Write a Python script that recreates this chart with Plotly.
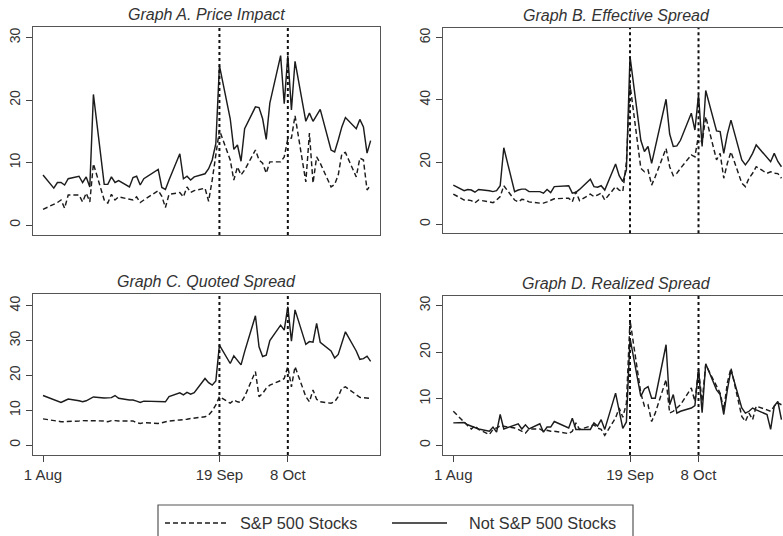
import datetime as dt
import plotly.graph_objects as go

# ---------------- data ----------------
dates = [
    "2008-08-01", "2008-08-04", "2008-08-05", "2008-08-06", "2008-08-07", "2008-08-08",
    "2008-08-11", "2008-08-12", "2008-08-13", "2008-08-14", "2008-08-15",
    "2008-08-18", "2008-08-19", "2008-08-20", "2008-08-21", "2008-08-22",
    "2008-08-25", "2008-08-26", "2008-08-27", "2008-08-28", "2008-08-29",
    "2008-09-02", "2008-09-03", "2008-09-04", "2008-09-05",
    "2008-09-08", "2008-09-09", "2008-09-10", "2008-09-11", "2008-09-12",
    "2008-09-15", "2008-09-16", "2008-09-17", "2008-09-18", "2008-09-19",
    "2008-09-22", "2008-09-23", "2008-09-24", "2008-09-25", "2008-09-26",
    "2008-09-29", "2008-09-30",
    "2008-10-01", "2008-10-02", "2008-10-03",
    "2008-10-06", "2008-10-07", "2008-10-08", "2008-10-09", "2008-10-10",
    "2008-10-13", "2008-10-14", "2008-10-15", "2008-10-16", "2008-10-17",
    "2008-10-20", "2008-10-21", "2008-10-22", "2008-10-23", "2008-10-24",
    "2008-10-27", "2008-10-28", "2008-10-29", "2008-10-30", "2008-10-31",
]

price_impact_not_sp = [
    8.0, 5.9, 6.8, 6.8, 6.4, 7.4, 7.8, 6.8, 7.7, 6.1, 20.9, 6.5, 6.5, 7.7, 6.8, 7.1, 6.1, 7.6, 7.8, 6.4, 7.4,
    8.9, 6.0, 5.7, 7.2, 11.4, 7.4, 7.8, 7.2, 7.7, 8.2, 9.0, 10.4, 13.0, 25.5, 17.0, 12.1, 12.8, 10.2, 15.4, 18.9, 18.8,
    17.0, 13.7, 19.5, 27.1, 19.4, 27.1, 18.4, 26.2, 16.6, 17.9, 16.6, 17.6, 18.5, 12.0, 11.7, 13.6, 15.7, 17.2,
    15.4, 16.9, 15.7, 11.5, 13.5,
]
price_impact_sp = [
    2.5, 3.3, 3.6, 4.0, 2.7, 4.8, 4.8, 3.7, 5.1, 3.7, 9.8, 4.0, 3.5, 4.9, 4.0, 4.5, 4.1, 4.0, 4.5, 3.6, 4.0,
    5.5, 4.6, 2.8, 4.9, 5.2, 4.5, 6.1, 5.2, 5.5, 5.9, 3.8, 7.2, 11.5, 15.2, 10.4, 7.2, 9.3, 8.0, 8.8, 12.0, 10.4,
    9.9, 8.3, 10.1, 10.1, 10.9, 13.8, 13.9, 17.5, 6.9, 14.7, 6.7, 10.9, 9.9, 6.1, 6.5, 8.0, 11.4, 11.6,
    7.7, 10.7, 10.4, 5.6, 6.4,
]
eff_spread_not_sp = [
    12.6, 10.8, 11.2, 11.0, 10.3, 11.2, 10.8, 10.5, 10.8, 12.4, 24.6, 10.5, 11.0, 11.3, 11.3, 10.5, 10.5, 10.0, 11.2, 10.2, 12.1,
    12.4, 10.0, 10.3, 11.2, 14.5, 12.1, 11.9, 12.4, 11.0, 19.4, 15.6, 13.7, 17.5, 54.0, 27.0, 23.4, 25.0, 19.6, 25.0, 40.2, 29.0,
    25.0, 25.2, 27.0, 35.7, 30.3, 41.6, 25.0, 43.0, 30.0, 29.8, 22.8, 29.0, 33.5, 20.7, 19.1, 20.7, 22.8, 25.5,
    21.7, 20.1, 22.8, 20.2, 18.5,
]
eff_spread_sp = [
    9.7, 7.8, 7.8, 7.6, 6.9, 7.8, 7.2, 6.9, 7.8, 8.9, 12.4, 7.8, 7.2, 8.0, 7.8, 7.2, 6.8, 6.8, 7.2, 7.8, 8.2,
    8.4, 7.2, 10.5, 7.6, 9.7, 8.9, 9.4, 10.0, 7.8, 12.1, 11.0, 10.5, 20.0, 45.0, 18.0, 16.9, 17.5, 12.6, 15.3, 24.4, 18.5,
    15.6, 16.4, 18.0, 22.3, 21.7, 28.7, 26.1, 34.6, 20.7, 22.8, 14.8, 19.6, 23.3, 13.2, 12.1, 14.8, 16.4, 18.5,
    16.4, 16.9, 16.4, 16.3, 14.8,
]
quoted_spread_not_sp = [
    14.2, 13.0, 12.4, 12.2, 12.7, 13.2, 12.7, 12.4, 12.7, 13.2, 13.8, 13.5, 13.5, 13.6, 14.2, 13.4, 12.9, 12.9, 12.6, 12.2, 12.6,
    12.4, 12.4, 12.4, 13.9, 15.0, 14.4, 15.1, 14.6, 15.0, 19.1, 17.9, 17.2, 18.4, 28.7, 23.4, 25.6, 24.4, 23.0, 26.8, 37.1, 28.2,
    25.4, 25.8, 30.0, 34.4, 33.0, 39.7, 29.8, 38.8, 28.9, 29.7, 29.5, 34.9, 29.5, 27.0, 25.0, 26.0, 29.0, 32.5,
    27.0, 24.6, 24.8, 25.5, 24.0,
]
quoted_spread_sp = [
    7.5, 6.9, 6.7, 6.7, 6.7, 6.7, 6.9, 7.0, 7.0, 7.0, 7.0, 6.9, 6.7, 7.0, 7.0, 6.9, 6.9, 6.9, 6.4, 6.2, 6.4,
    6.2, 6.4, 6.7, 6.9, 7.2, 7.2, 7.4, 7.6, 7.7, 8.1, 8.6, 9.8, 11.5, 13.9, 12.0, 12.9, 12.4, 12.2, 13.9, 21.1, 13.9,
    14.8, 16.3, 17.2, 18.5, 19.1, 22.5, 16.7, 22.5, 13.9, 12.4, 15.8, 13.1, 12.4, 12.0, 12.4, 13.9, 16.3, 16.7,
    14.4, 13.7, 13.6, 13.4, 13.4,
]
realized_spread_not_sp = [
    4.8, 4.9, 4.4, 4.1, 3.9, 3.5, 3.0, 3.9, 2.8, 6.6, 3.5, 4.2, 4.6, 3.5, 4.4, 3.5, 4.6, 2.8, 3.9, 3.9, 5.1,
    3.7, 5.8, 3.4, 3.4, 3.4, 4.8, 4.1, 5.5, 3.4, 11.2, 7.5, 3.6, 5.0, 23.0, 10.5, 12.1, 12.6, 10.1, 10.1, 21.6, 8.7,
    10.9, 6.9, 7.3, 8.0, 8.5, 16.3, 7.0, 17.5, 11.9, 10.9, 6.6, 11.9, 16.2, 8.0, 6.9, 7.3, 8.0, 7.6,
    6.6, 3.4, 8.4, 9.4, 5.5,
]
realized_spread_sp = [
    7.3, 4.8, 4.2, 3.5, 4.2, 3.4, 2.3, 3.4, 3.7, 4.2, 4.1, 3.7, 3.4, 3.0, 2.6, 3.5, 3.5, 3.0, 3.2, 3.0, 3.0,
    2.5, 3.0, 4.8, 3.4, 4.1, 4.4, 3.7, 3.4, 2.1, 5.9, 8.0, 6.0, 9.0, 26.9, 11.2, 8.4, 8.7, 5.1, 6.9, 14.1, 6.9,
    7.3, 8.0, 8.7, 12.3, 9.4, 16.2, 9.4, 17.3, 12.6, 11.2, 7.6, 13.4, 16.6, 6.2, 5.1, 6.9, 5.5, 8.4,
    7.6, 7.3, 8.4, 9.1, 8.7,
]

panel_titles = ["Graph A. Price Impact", "Graph B. Effective Spread",
                "Graph C. Quoted Spread", "Graph D. Realized Spread"]
x_tick_dates = ["2008-08-01", "2008-09-19", "2008-10-08"]
x_tick_labels = ["1 Aug", "19 Sep", "8 Oct"]
event_dates = ["2008-09-19", "2008-10-08"]
y_ticks_a = [0, 10, 20, 30]
y_ticks_b = [0, 20, 40, 60]
y_ticks_c = [0, 10, 20, 30, 40]
y_ticks_d = [0, 10, 20, 30]
legend_labels = ["S&P 500 Stocks", "Not S&P 500 Stocks"]

# ---------------- layout helpers ----------------
W, H = 783, 536
FONT = "Liberation Sans, Arial, Helvetica, sans-serif"
LINE = "#1c1c1c"
TXT = "#333333"
FRAME = "#555555"


def px(p):
    return p / W


def py(p):
    return 1 - p / H


base = dt.datetime(2008, 8, 1)


def drange(a, b):
    return [(base + dt.timedelta(days=a)).strftime("%Y-%m-%d %H:%M:%S"),
            (base + dt.timedelta(days=b)).strftime("%Y-%m-%d %H:%M:%S")]


panels = [
    dict(x0=33, x1=380, yt=27.3, yb=235, xr=(-2.78, 93.6), yr=(-1.6, 31.64), yt_vals=y_ticks_a, bottom=False, clip=False),
    dict(x0=443, x1=783, yt=28, yb=233.3, xr=(-2.86, 91.43), yr=(-2.9, 63.1), yt_vals=y_ticks_b, bottom=False, clip=True),
    dict(x0=33, x1=380, yt=294.3, yb=455, xr=(-2.78, 93.6), yr=(-2.87, 43.27), yt_vals=y_ticks_c, bottom=True, clip=False),
    dict(x0=443, x1=783, yt=295.7, yb=455, xr=(-2.86, 91.43), yr=(-2.1, 32.14), yt_vals=y_ticks_d, bottom=True, clip=True),
]
series = [
    (price_impact_sp, price_impact_not_sp),
    (eff_spread_sp, eff_spread_not_sp),
    (quoted_spread_sp, quoted_spread_not_sp),
    (realized_spread_sp, realized_spread_not_sp),
]

fig = go.Figure()
layout = dict(
    width=W, height=H, autosize=False,
    margin=dict(l=0, r=0, t=0, b=0, pad=0),
    paper_bgcolor="white", plot_bgcolor="white",
    showlegend=False,
    font=dict(family=FONT, color=TXT),
)
shapes = []
annotations = []

for i, (p, (sp, nsp)) in enumerate(zip(panels, series)):
    n = i + 1
    xa = "x" if n == 1 else f"x{n}"
    ya = "y" if n == 1 else f"y{n}"
    fig.add_trace(go.Scatter(x=dates, y=nsp, mode="lines", xaxis=xa, yaxis=ya,
                             line=dict(color=LINE, width=1.45), name=legend_labels[1]))
    fig.add_trace(go.Scatter(x=dates, y=sp, mode="lines", xaxis=xa, yaxis=ya,
                             line=dict(color=LINE, width=1.45, dash="5px,3px"), name=legend_labels[0]))
    xkey = "xaxis" if n == 1 else f"xaxis{n}"
    ykey = "yaxis" if n == 1 else f"yaxis{n}"
    layout[xkey] = dict(
        type="date", domain=[px(p["x0"]), px(p["x1"])], range=drange(*p["xr"]),
        anchor=ya, showgrid=False, zeroline=False, automargin=False,
        showline=True, linecolor=FRAME, linewidth=1.2, mirror=True,
        tickmode="array", tickvals=x_tick_dates, ticktext=x_tick_labels,
        ticks="outside" if p["bottom"] else "", ticklen=6, tickcolor="#444", tickwidth=1,
        showticklabels=p["bottom"],
        tickfont=dict(size=15, color=TXT, family=FONT),
        fixedrange=True,
    )
    layout[ykey] = dict(
        domain=[py(p["yb"]), py(p["yt"])], range=list(p["yr"]), anchor=xa,
        showgrid=False, zeroline=False, automargin=False,
        showline=True, linecolor=FRAME, linewidth=1.2, mirror=not p["clip"],
        tickmode="array", tickvals=p["yt_vals"], ticks="outside", ticklen=6,
        tickcolor="#444", tickwidth=1, tickangle=-90,
        tickfont=dict(size=14, color=TXT, family=FONT),
        fixedrange=True,
    )
    for d in event_dates:
        shapes.append(dict(type="line", xref=xa, yref=f"{ya} domain", x0=d, x1=d, y0=0, y1=1,
                           line=dict(color="#111", width=2, dash="dot")))
    full_x1 = p["x0"] + 347
    annotations.append(dict(
        text=panel_titles[i], xref="paper", yref="paper",
        x=px((p["x0"] + full_x1) / 2), y=py(p["yt"] - 12.5),
        xanchor="center", yanchor="middle", showarrow=False,
        font=dict(size=16, color=TXT, family=FONT, style="italic"),
    ))

# legend box drawn below the panels
shapes.append(dict(type="rect", xref="paper", yref="paper",
                   x0=px(158), x1=px(633), y0=py(560), y1=py(505),
                   line=dict(color=FRAME, width=1.2), fillcolor="rgba(0,0,0,0)"))
shapes.append(dict(type="line", xref="paper", yref="paper",
                   x0=px(165), x1=px(228), y0=py(523), y1=py(523),
                   line=dict(color=LINE, width=1.45, dash="5px,3px")))
shapes.append(dict(type="line", xref="paper", yref="paper",
                   x0=px(392), x1=px(447), y0=py(523), y1=py(523),
                   line=dict(color=LINE, width=1.45)))
annotations.append(dict(text=legend_labels[0], xref="paper", yref="paper",
                        x=px(237.5), y=py(523), xanchor="left", yanchor="middle",
                        showarrow=False, font=dict(size=16.3, color=TXT, family=FONT)))
annotations.append(dict(text=legend_labels[1], xref="paper", yref="paper",
                        x=px(466.5), y=py(523), xanchor="left", yanchor="middle",
                        showarrow=False, font=dict(size=16.3, color=TXT, family=FONT)))

layout["shapes"] = shapes
layout["annotations"] = annotations
fig.update_layout(**layout)

fig.write_html("out.html")
